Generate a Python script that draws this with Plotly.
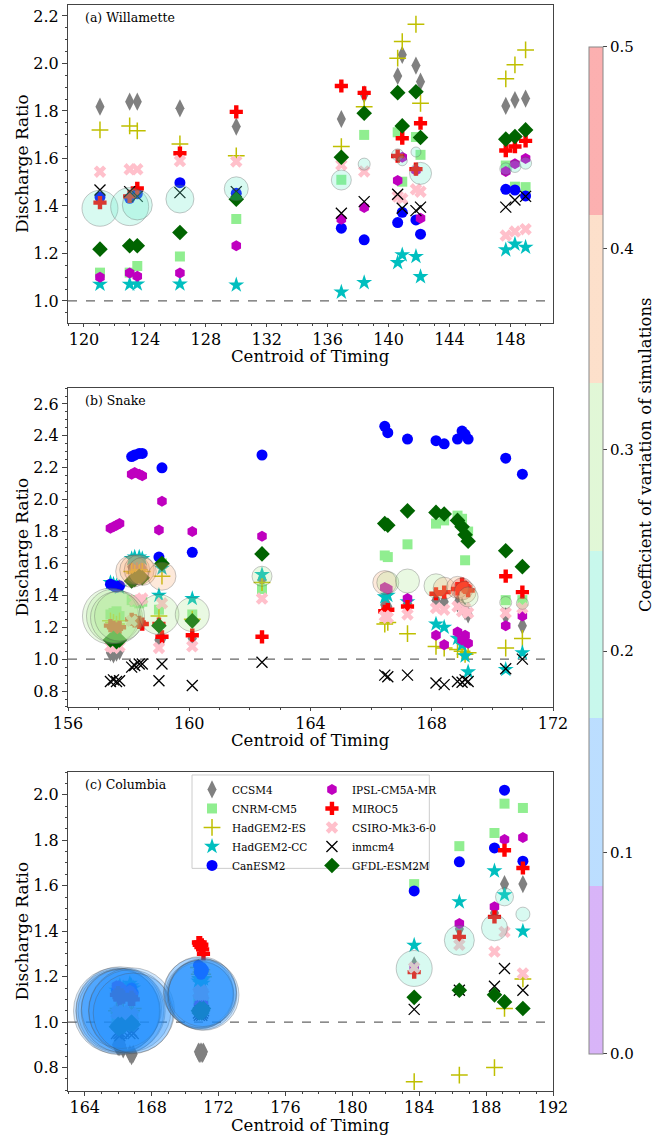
import plotly.graph_objects as go

# ---------------- data ----------------
GCMS = ["CCSM4", "CNRM-CM5", "HadGEM2-ES", "HadGEM2-CC", "CanESM2",
        "IPSL-CM5A-MR", "MIROC5", "CSIRO-Mk3-6-0", "inmcm4", "GFDL-ESM2M"]

# (a) Willamette
W_x = [121.05, 123.0, 123.5, 126.3, 130.0, 136.9, 138.4, 140.6, 140.9, 141.8, 142.1, 147.7, 148.3, 149.0]
W_CCSM4 = [1.818, 1.839, 1.839, 1.811, 1.734, 1.766, 1.870, 1.947, 2.036, 1.991, 1.923, 1.821, 1.846, 1.852]
W_CNRM = [1.119, 1.119, 1.147, 1.187, 1.345, 1.510, 1.699, 1.710, 1.502, 1.690, 1.615, 1.570, 1.481, 1.479]
W_HADES = [1.720, 1.737, 1.716, 1.661, 1.611, 1.650, 1.818, 2.022, 2.092, 2.165, 1.832, 1.935, 1.994, 2.057]
W_HADCC = [1.070, 1.070, 1.071, 1.071, 1.067, 1.037, 1.077, 1.161, 1.194, 1.187, 1.102, 1.215, 1.239, 1.226]
W_CAN = [1.437, 1.432, 1.451, 1.498, 1.453, 1.306, 1.257, 1.330, 1.373, 1.341, 1.281, 1.470, 1.467, 1.442]
W_IPSL = [1.100, 1.117, 1.104, 1.117, 1.232, 1.344, 1.393, 1.507, 1.605, 1.550, 1.348, 1.545, 1.577, 1.600]
W_MIROC = [1.414, 1.440, 1.474, 1.622, 1.796, 1.905, 1.876, 1.610, 1.685, 1.555, 1.748, 1.633, 1.650, 1.674]
W_CSIRO = [1.544, 1.554, 1.554, 1.589, 1.587, 1.573, 1.545, 1.440, 1.430, 1.470, 1.460, 1.275, 1.292, 1.302]
W_INM = [1.467, 1.460, 1.440, 1.456, 1.460, 1.369, 1.418, 1.449, 1.390, 1.380, 1.395, 1.395, 1.425, 1.440]
W_GFDL = [1.218, 1.232, 1.232, 1.288, 1.428, 1.605, 1.790, 1.877, 1.737, 1.881, 1.688, 1.681, 1.692, 1.720]
W_mean = [1.390, 1.397, 1.404, 1.429, 1.472, 1.509, 1.576, 1.615, 1.590, 1.627, 1.537, 1.556, 1.566, 1.580]
W_cv = [0.19, 0.19, 0.19, 0.19, 0.19, 0.19, 0.19, 0.19, 0.19, 0.19, 0.19, 0.19, 0.19, 0.19]
W_spread = [36, 38, 30, 28, 24, 20, 12, 12, 10, 10, 22, 12, 12, 12]

# (b) Snake
S_x = [157.4, 157.5, 157.6, 157.7, 158.1, 158.2, 158.35, 158.45, 159.0, 159.1, 160.1, 162.4,
       166.45, 166.55, 167.2, 168.14, 168.41, 168.85, 169.0, 169.1, 169.2, 170.44, 170.99]
S_CCSM4 = [1.04, 1.03, 1.04, 1.05, 1.58, 1.59, 1.60, 1.57, 1.12, 1.13, 1.13, 1.50,
           1.34, 1.33, 1.35, 1.37, 1.36, 1.35, 1.33, 1.30, 1.28, 1.27, 1.21]
S_CNRM = [1.28, 1.29, 1.30, 1.27, 1.37, 1.36, 1.35, 1.36, 1.31, 1.60, 1.28, 1.44,
          1.65, 1.64, 1.72, 1.85, 1.87, 1.90, 1.88, 1.62, 1.80, 1.37, 1.37]
S_HADES = [1.24, 1.23, 1.22, 1.24, 1.55, 1.54, 1.56, 1.55, 1.27, 1.52, 1.25, 1.48,
           1.22, 1.23, 1.16, 1.08, 1.07, 1.06, 1.05, 1.03, 1.04, 1.07, 1.13]
S_HADCC = [1.48, 1.47, 1.46, 1.45, 1.63, 1.64, 1.64, 1.63, 1.40, 1.57, 1.38, 1.53,
           1.39, 1.40, 1.36, 1.22, 1.20, 1.13, 1.09, 1.02, 0.92, 0.935, 1.04]
S_CAN = [1.47, 1.46, 1.45, 1.46, 2.27, 2.28, 2.29, 2.29, 1.64, 2.20, 1.67, 2.28,
         2.46, 2.42, 2.38, 2.37, 2.35, 2.38, 2.43, 2.41, 2.38, 2.26, 2.16]
S_IPSL = [1.82, 1.83, 1.84, 1.85, 2.16, 2.17, 2.16, 2.15, 1.81, 1.99, 1.80, 1.77,
          1.45, 1.44, 1.38, 1.15, 1.09, 1.17, 1.12, 1.15, 1.10, 1.21, 1.27]
S_MIROC = [1.21, 1.20, 1.19, 1.20, 1.25, 1.24, 1.23, 1.22, 1.22, 1.14, 1.15, 1.14,
           1.30, 1.31, 1.33, 1.41, 1.42, 1.44, 1.47, 1.45, 1.43, 1.52, 1.42]
S_CSIRO = [1.08, 1.07, 1.09, 1.08, 1.24, 1.37, 1.37, 1.38, 1.07, 1.35, 1.08, 1.38,
           1.27, 1.26, 1.28, 1.32, 1.31, 1.33, 1.30, 1.32, 1.29, 1.29, 1.32]
S_INM = [0.86, 0.87, 0.86, 0.865, 0.95, 0.96, 0.97, 0.97, 0.865, 0.97, 0.835, 0.98,
         0.90, 0.89, 0.90, 0.85, 0.84, 0.86, 0.855, 0.87, 0.86, 0.94, 1.00]
S_GFDL = [1.12, 1.13, 1.11, 1.12, 1.49, 1.50, 1.52, 1.51, 1.21, 1.60, 1.24, 1.66,
          1.85, 1.84, 1.93, 1.92, 1.91, 1.87, 1.83, 1.78, 1.74, 1.68, 1.58]
S_mean = [1.27, 1.27, 1.26, 1.27, 1.55, 1.56, 1.56, 1.55, 1.28, 1.52, 1.28, 1.52,
          1.48, 1.48, 1.49, 1.46, 1.445, 1.45, 1.44, 1.42, 1.39, 1.355, 1.35]
S_cv = [0.29, 0.29, 0.29, 0.29, 0.37, 0.37, 0.37, 0.37, 0.29, 0.37, 0.29, 0.29,
        0.37, 0.29, 0.29, 0.29, 0.37, 0.37, 0.45, 0.37, 0.29, 0.29, 0.29]
S_spread = [56, 54, 52, 50, 32, 30, 30, 28, 40, 28, 34, 20,
            24, 22, 24, 24, 22, 22, 22, 22, 20, 12, 12]

# (c) Columbia
C_x = [165.9, 166.0, 166.05, 166.1, 166.2, 166.3, 166.7, 166.8, 166.9,
       170.8, 170.85, 170.9, 170.95, 171.0, 171.05, 171.1,
       183.7, 186.4, 188.5, 189.1, 190.2]
C_CCSM4 = [0.90, 0.89, 0.90, 0.89, 0.90, 0.88, 0.86, 0.85, 0.86,
           0.87, 0.86, 0.87, 0.86, 0.87, 0.86, 0.87, 1.25, 1.41, 1.48, 1.607, 1.607]
C_CNRM = [1.02, 1.01, 1.02, 1.03, 1.02, 1.01, 1.01, 1.00, 1.02,
          1.10, 1.11, 1.09, 1.10, 1.10, 1.11, 1.09, 1.607, 1.774, 1.832, 1.961, 1.942]
C_HADES = [1.05, 1.06, 1.04, 1.05, 1.06, 1.05, 1.05, 1.05, 1.06,
           1.24, 1.21, 1.20, 1.22, 1.23, 1.21, 1.20, 0.738, 0.767, 0.800, 1.060, 1.190]
C_HADCC = [1.14, 1.13, 1.15, 1.16, 1.14, 1.15, 1.17, 1.16, 1.15,
           1.18, 1.19, 1.17, 1.20, 1.18, 1.17, 1.19, 1.338, 1.529, 1.665, 1.560, 1.400]
C_CAN = [1.14, 1.15, 1.14, 1.15, 1.13, 1.14, 1.14, 1.15, 1.13,
         1.25, 1.22, 1.23, 1.21, 1.24, 1.22, 1.23, 1.577, 1.705, 1.766, 2.020, 1.708]
C_IPSL = [1.16, 1.15, 1.16, 1.14, 1.15, 1.13, 1.14, 1.13, 1.12,
          1.07, 1.08, 1.07, 1.09, 1.08, 1.07, 1.08, 1.235, 1.434, 1.507, 1.803, 1.812]
C_MIROC = [1.12, 1.13, 1.11, 1.10, 1.12, 1.11, 1.10, 1.11, 1.10,
           1.35, 1.34, 1.35, 1.33, 1.34, 1.32, 1.30, 1.220, 1.375, 1.463, 1.756, 1.678]
C_CSIRO = [1.04, 1.05, 1.04, 1.03, 1.04, 1.05, 1.03, 1.04, 1.03,
           1.13, 1.12, 1.13, 1.14, 1.12, 1.13, 1.12, 1.240, 1.340, 1.310, 1.397, 1.214]
C_INM = [0.95, 0.96, 0.95, 0.94, 0.95, 0.96, 0.95, 0.96, 0.95,
         1.04, 1.03, 1.05, 1.04, 1.03, 1.04, 1.05, 1.056, 1.140, 1.158, 1.236, 1.140]
C_GFDL = [0.98, 0.99, 0.97, 0.98, 0.99, 0.98, 0.99, 1.00, 0.99,
          1.05, 1.04, 1.06, 1.05, 1.04, 1.05, 1.06, 1.109, 1.140, 1.120, 1.089, 1.060]
C_mean = [1.05, 1.05, 1.05, 1.05, 1.06, 1.05, 1.05, 1.05, 1.04,
          1.13, 1.12, 1.13, 1.12, 1.12, 1.13, 1.12, 1.236, 1.360, 1.415, 1.551, 1.475]
C_cv = [0.12, 0.12, 0.12, 0.12, 0.12, 0.12, 0.12, 0.12, 0.12,
        0.12, 0.12, 0.12, 0.12, 0.12, 0.12, 0.12, 0.19, 0.19, 0.19, 0.19, 0.19]
C_spread = [86, 84, 82, 88, 80, 84, 82, 86, 80,
            70, 68, 72, 66, 70, 68, 71, 36, 30, 26, 18, 14]

PANEL_LABELS = ["(a) Willamette", "(b) Snake", "(c) Columbia"]
X_TITLE = "Centroid of Timing"
Y_TITLE = "Discharge Ratio"
CB_TITLE = "Coefficient of variation of simulations"
CB_TICKS = [0.0, 0.1, 0.2, 0.3, 0.4, 0.5]
REF_LEVEL = 1.0

# ---------------- styles ----------------
FONT = "DejaVu Serif"
STYLE = {
    "CCSM4": dict(symbol="diamond-tall", color="gray", size=13),
    "CNRM-CM5": dict(symbol="square", color="lightgreen", size=10),
    "HadGEM2-ES": dict(symbol="cross-thin", color="#bfbf00", size=12, line=dict(color="#bfbf00", width=1.5)),
    "HadGEM2-CC": dict(symbol="star", color="#00bfbf", size=12),
    "CanESM2": dict(symbol="circle", color="blue", size=11),
    "IPSL-CM5A-MR": dict(symbol="hexagon", color="#bf00bf", size=11),
    "MIROC5": dict(symbol="cross", color="red", size=11),
    "CSIRO-Mk3-6-0": dict(symbol="x", color="pink", size=11),
    "inmcm4": dict(symbol="x-thin", color="black", size=11, line=dict(color="black", width=1.3)),
    "GFDL-ESM2M": dict(symbol="diamond", color="darkgreen", size=12),
}
BIN_COLORS = ["rgba(144,41,235,0.35)", "rgba(30,144,255,0.3)", "rgba(98,235,201,0.35)",
              "rgba(170,232,140,0.35)", "rgba(249,166,106,0.35)", "rgba(246,29,29,0.35)"]
CSCALE = []
for i, c in enumerate(BIN_COLORS):
    CSCALE.append([i / 6, c])
    CSCALE.append([(i + 1) / 6, c])

panels = [
    dict(x=W_x, vals=[W_CCSM4, W_CNRM, W_HADES, W_HADCC, W_CAN, W_IPSL, W_MIROC, W_CSIRO, W_INM, W_GFDL],
         mean=W_mean, cv=W_cv, spread=W_spread, xr=[118.95, 150.8], yr=[0.907, 2.246], dom=[0.7072, 1.0], tick0=120),
    dict(x=S_x, vals=[S_CCSM4, S_CNRM, S_HADES, S_HADCC, S_CAN, S_IPSL, S_MIROC, S_CSIRO, S_INM, S_GFDL],
         mean=S_mean, cv=S_cv, spread=S_spread, xr=[156, 172], yr=[0.70, 2.70], dom=[0.3536, 0.6473], tick0=156),
    dict(x=C_x, vals=[C_CCSM4, C_CNRM, C_HADES, C_HADCC, C_CAN, C_IPSL, C_MIROC, C_CSIRO, C_INM, C_GFDL],
         mean=C_mean, cv=C_cv, spread=C_spread, xr=[163, 192], yr=[0.697, 2.10], dom=[0.0, 0.2937], tick0=164),
]

colorbar_cfg = dict(x=1.0742, xanchor="left", y=0.4977, yanchor="middle", xpad=0, ypad=0,
                    len=0.927, lenmode="fraction", thickness=14,
                    outlinecolor="#888", outlinewidth=1,
                    tickvals=CB_TICKS, ticktext=[f"{v:.1f}" for v in CB_TICKS],
                    ticks="outside", ticklen=4, tickcolor="#444",
                    tickfont=dict(family=FONT, size=15, color="black"))

fig = go.Figure()
layout = {}
for p, P in enumerate(panels):
    sfx = "" if p == 0 else str(p + 1)
    xa, ya = "x" + sfx, "y" + sfx
    for g, name in enumerate(GCMS):
        st = STYLE[name]
        mk = dict(symbol=st["symbol"], color=st["color"], size=st["size"],
                  line=st.get("line", dict(width=0)))
        fig.add_trace(go.Scatter(
            x=P["x"], y=P["vals"][g], mode="markers", name=name, marker=mk,
            xaxis=xa, yaxis=ya, legendgroup=name, showlegend=(p == 2),
            legend="legend" if g < 5 else "legend2"))
    circ_marker = dict(size=P["spread"], color=P["cv"], colorscale=CSCALE, cmin=0, cmax=0.5,
                       line=dict(color="rgba(80,80,80,0.45)", width=1),
                       showscale=(p == 0), colorbar=colorbar_cfg)
    fig.add_trace(go.Scatter(
        x=P["x"], y=P["mean"], mode="markers", showlegend=False, xaxis=xa, yaxis=ya,
        hoverinfo="skip", marker=circ_marker))
    axcommon = dict(showline=True, mirror=True, linecolor="#444", linewidth=1, ticks="outside",
                    tickcolor="#444", showgrid=False, zeroline=False,
                    tickfont=dict(family=FONT, size=16, color="black"))
    layout["xaxis" + sfx] = dict(axcommon, anchor=ya, domain=[0, 1], range=P["xr"], dtick=4,
                                 tick0=P["tick0"], ticklen=3.5, ticklabelstandoff=-2,
                                 minor=dict(ticks="outside", ticklen=2, dtick=1, tickcolor="#444"))
    layout["yaxis" + sfx] = dict(axcommon, anchor=xa, domain=P["dom"], range=P["yr"], dtick=0.2,
                                 tick0=0, tickformat=".1f", ticklen=5,
                                 minor=dict(ticks="outside", ticklen=2.5, dtick=0.05, tickcolor="#444"))
    fig.add_annotation(text=X_TITLE, xref=xa + " domain", yref=ya + " domain",
                       x=0.5, y=0, yshift=-34, xanchor="center", yanchor="middle", showarrow=False,
                       font=dict(family=FONT, size=16.5, color="black"))
    fig.add_annotation(text=Y_TITLE, xref=xa + " domain", yref=ya + " domain", textangle=-90,
                       x=0, y=0.5, xshift=-46, xanchor="center", yanchor="middle", showarrow=False,
                       font=dict(family=FONT, size=17, color="black"))
    fig.add_shape(type="line", xref=xa + " domain", yref=ya, x0=0, x1=1, y0=REF_LEVEL, y1=REF_LEVEL,
                  line=dict(color="#666", width=1.2, dash="dash"), layer="below")
    fig.add_annotation(text=PANEL_LABELS[p], xref=xa + " domain", yref=ya + " domain",
                       x=0.03, y=0.962, xanchor="left", yanchor="middle", showarrow=False,
                       font=dict(family=FONT, size=12.5, color="black"))

# colorbar title
fig.add_annotation(text=CB_TITLE, xref="paper", yref="paper", x=1.1897, y=0.5856, textangle=-90,
                   xanchor="center", yanchor="middle", showarrow=False,
                   font=dict(family=FONT, size=16.5, color="black"))

# legend box
fig.add_shape(type="rect", xref="paper", yref="paper", x0=0.2557, x1=0.745, y0=0.205, y1=0.291,
              fillcolor="rgba(255,255,255,0.85)", line=dict(color="#ccc", width=1), layer="above")

fig.update_layout(
    width=656, height=1135, plot_bgcolor="white", paper_bgcolor="white",
    margin=dict(l=68, r=103, t=5, b=44),
    font=dict(family=FONT, color="black"),
    legend=dict(x=0.2557, y=0.291, xanchor="left", yanchor="top", bgcolor="rgba(0,0,0,0)",
                font=dict(family=FONT, size=10.5), itemwidth=30, tracegroupgap=0),
    legend2=dict(x=0.503, y=0.291, xanchor="left", yanchor="top", bgcolor="rgba(0,0,0,0)",
                 font=dict(family=FONT, size=10.5), itemwidth=30, tracegroupgap=0),
    **layout)

fig.write_html("out.html", config={"displayModeBar": False},
               post_script="document.body.style.margin='0px';document.body.style.overflow='hidden';")
